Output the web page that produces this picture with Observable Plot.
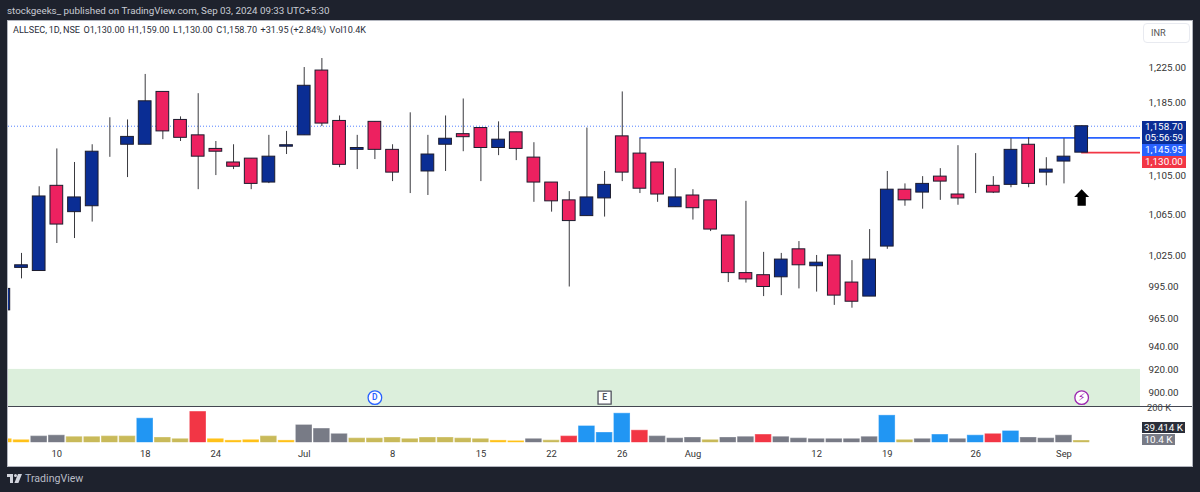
<!DOCTYPE html>
<html><head><meta charset="utf-8">
<script src="https://cdn.jsdelivr.net/npm/d3@7"></script>
<script src="https://cdn.jsdelivr.net/npm/@observablehq/plot@0.6"></script>
<style>
html,body{margin:0;padding:0;background:#1e222d;width:1200px;height:492px;overflow:hidden;font-family:Roboto,sans-serif}
#panel{position:absolute;left:7px;top:20px;width:1184px;height:445px;background:#fff;border:1px solid #b2b5be}
#sep{position:absolute;left:8px;top:406px;width:1184px;height:1px;background:#434651;z-index:3}
#top,#bot{position:absolute;left:0}
#top{top:0}#bot{top:407px}
.t{position:absolute;white-space:pre;z-index:4}
.tag{position:absolute;left:1142px;width:44px;color:#fff;font-size:9.9px;text-align:center;z-index:4;line-height:11.5px}
svg{background:transparent!important}
</style></head><body>
<div id="panel"></div>
<div class="t" style="left:7px;top:4px;color:#c9ccd4;font-size:9.8px;line-height:13px">stockgeeks_ published on TradingView.com, Sep 03, 2024 09:33 UTC+5:30</div>
<div class="t" style="left:13px;top:24px;color:#2a2e39;font-size:9.1px;line-height:13px;word-spacing:-0.5px">ALLSEC, 1D, NSE  O1,130.00  H1,159.00  L1,130.00  C1,158.70  +31.95 (+2.84%)  Vol10.4K</div>
<div class="t" style="left:1143px;top:23px;width:45px;height:18px;border:1px solid #e8eaf0;border-radius:4px;color:#555;font-size:9.2px;line-height:18px;text-indent:7px">INR</div>
<div id="top"></div>
<div id="sep"></div>
<div id="bot"></div>
<div class="tag" style="top:120.5px;height:23px;background:#0a2d94">1,158.70<br>05:56:59</div>
<div class="tag" style="top:143.5px;height:12px;background:#2962ff">1,145.95</div>
<div class="tag" style="top:155.5px;height:12.5px;background:#f23645">1,130.00</div>
<div class="t" style="left:1147px;top:402px;color:#444;font-size:9.4px;line-height:12px;z-index:2">200 K</div>
<div class="tag" style="top:421.5px;height:11.5px;background:#2a2e39;width:43px">39.414 K</div>
<div class="tag" style="top:433.5px;height:11.5px;background:#787b86;width:33px">10.4 K</div>
<svg style="position:absolute;left:7px;top:474px" width="15" height="9" viewBox="0 0 15 9"><path fill="#d1d4dc" d="M0 0h6v9H3V3H0zM8.5 3a1.5 1.5 0 1 1 0-3 1.5 1.5 0 0 1 0 3zM11 0h4l-3.6 9H7.4z"/></svg>
<div class="t" style="left:25px;top:472px;color:#b8bcc6;font-size:10.6px;line-height:14px">TradingView</div>
<script>
const opens  = [973,1013,1010,1095,1068,1074,1138,1138.5,1138.5,1197,1165.6,1148.7,1134,1119.5,1123.6,1098.4,1136.4,1148.7,1221.5,1164.5,1133,1163.5,1133,1118,1110,1138.5,1150,1156.7,1135,1152,1124.7,1098.4,1080,1064,1082,1147.6,1129,1119.5,1073,1085,1080,1044.6,1008,1006,1004,1031,1014.6,1025,999,985.8,1033.7,1091,1088,1104.6,1086,1096,1095,1096,1138.5,1108.8,1120.5,1130];
const highs  = [1000,1027,1094,1134,1119.5,1138.5,1168,1165.6,1217,1197,1169,1195,1142,1138.5,1123.6,1148.7,1153,1225,1235.5,1170,1148.7,1163.5,1138.5,1173.5,1148.7,1170,1189,1156.7,1163.5,1152,1140.7,1098.4,1089,1156.7,1110,1197,1145,1119.5,1113,1091,1080,1044.6,1079,1028,1027,1038.6,1025,1025,1020,1050.5,1110,1097,1104.6,1113,1137.5,1129,1104.6,1145,1146,1124.6,1145,1159];
const lows   = [965,1002.5,1010,1036.7,1041.6,1058,1125,1103.6,1138.5,1144,1142,1091,1105.7,1112,1091,1097.3,1128,1148.7,1158.3,1114,1112,1122.6,1099.4,1087,1085,1110,1131,1099.4,1126.8,1121.5,1078,1068,994.8,1064,1063,1099.4,1087,1078,1073,1060,1048.5,999,998.5,985.8,986.7,993,990,977.6,975,985.8,1031,1074,1071,1080,1075,1087,1087,1093,1093,1095,1097,1130];
const closes = [993,1015.5,1084,1055.5,1083,1131,1138,1147,1186.4,1153,1146,1125.7,1131,1115,1097,1125.7,1138,1204,1161.6,1117,1135,1133,1108.8,1118,1128,1145,1146.7,1135,1144,1134,1098.4,1079,1059,1083,1096,1108.8,1092,1086,1083,1072,1050.5,1008,1002,994.8,1021,1015.5,1018,986.7,981,1021,1091,1080,1097,1099.4,1082,1096,1088,1133,1097,1112,1125.7,1158.7];
const volumes = [20,14,36,41,32,32,36,36,140,28,20,179,20,11,14,36,11,101,80,49,24,24,28,20,28,28,24,20,11,8,20,12,36,95,57,169,70,36,24,28,14,28,32,45,32,24,20,20,20,32,157,14,20,45,20,41,49,66,28,24,41,10.4];
const volumeKinds = "o o g g y y y y b y y r o o o y o g g g y y y y y y y y o o g y r b b b r g g g y g g r g g g g g g b y g b g b r b g g g y".split(" ");
const kindNames = ["o","y","g","b","r"];
const kindColors = ["#ffc21a","#c9ba5a","#787b86","#2196f3","#f23645"];
const priceTicks = [1225,1185,1105,1065,1025,995,965,940,920,900];
const dateTickBars = [2,7,11,16,21,26,30,34,38,45,49,54,59];
const dateTickLabels = ["10","18","24","Jul","8","15","22","26","Aug","12","19","26","Sep"];
const lastClose = 1158.7, resistance = 1145.95, resistanceFrom = 35, lastOpen = 1130, lastBar = 60;
const bandTop = 920, bandBottom = 888.2, markerPrice = 895.7, arrowPrice = 1083;

const bars = opens.map((o,k)=>({i:k-1,o,h:highs[k],l:lows[k],c:closes[k],v:volumes[k],kind:volumeKinds[k]}));
const xDomain = [-0.736,63.33];
const font = "Roboto, sans-serif";
const up = d=>d.c>=d.o;
const arrowSymbol = {draw(c,s){const r=Math.sqrt(s/Math.PI);
  c.moveTo(0,-r);c.lineTo(r*.9,-r*.05);c.lineTo(r*.5,-r*.05);c.lineTo(r*.5,r);c.lineTo(-r*.5,r);c.lineTo(-r*.5,-r*.05);c.lineTo(-r*.9,-r*.05);c.closePath();}};

const price = Plot.plot({
  width:1200,height:406,marginLeft:8,marginRight:60,marginTop:20,marginBottom:0,
  style:{fontFamily:font,fontSize:"9.8px",color:"#333",background:"transparent"},
  x:{domain:xDomain,axis:null},
  y:{type:"log",domain:[1280.9,888.2],range:[20,406],axis:null},
  marks:[
    Plot.rect([0],{x1:xDomain[0],x2:xDomain[1],y1:bandTop,y2:bandBottom,fill:"#dcefdc"}),
    Plot.axisY({anchor:"right",ticks:priceTicks,tickSize:0,tickPadding:8,label:null,
      tickFormat:d=>d3.format(",.2f")(d),textAnchor:"start",fill:"#333"}),
    Plot.ruleY([lastClose],{x1:xDomain[0],x2:xDomain[1],stroke:"#2962ff",strokeWidth:1,strokeDasharray:"1 2",strokeOpacity:.8}),
    Plot.ruleY([resistance],{x1:resistanceFrom,x2:xDomain[1],stroke:"#2962ff",strokeWidth:1.6}),
    Plot.ruleY([lastOpen],{x1:lastBar,x2:xDomain[1],stroke:"#f23645",strokeWidth:1.6}),
    Plot.ruleX(bars,{x:"i",y1:"l",y2:"h",stroke:"#3a3a3f",strokeWidth:1,clip:true}),
    Plot.rect(bars,{x1:d=>d.i-.36,x2:d=>d.i+.36,y1:"o",y2:"c",
      fill:d=>up(d)?"#0a2d94":"#ed2160",stroke:"#1c1c2e",strokeWidth:1,clip:true}),
    Plot.dot([0],{x:lastBar,y:arrowPrice,r:8.3,symbol:arrowSymbol,fill:"#000"}),
    Plot.dot([0],{x:20,y:markerPrice,r:6.8,fill:"#fff",stroke:"#2962ff",strokeWidth:1.3}),
    Plot.text(["D"],{x:20,y:markerPrice,text:d=>d,fill:"#2962ff",fontSize:8.5,fontWeight:600}),
    Plot.dot([0],{x:33,y:markerPrice,r:7.4,symbol:"square",fill:"#fff",stroke:"#50535e",strokeWidth:1.3,strokeLinejoin:"round"}),
    Plot.text(["E"],{x:33,y:markerPrice,text:d=>d,fill:"#50535e",fontSize:8.5,fontWeight:600}),
    Plot.dot([0],{x:lastBar,y:markerPrice,r:6.8,fill:"#fff",stroke:"#9c27b0",strokeWidth:1.3}),
    Plot.text(["⚡"],{x:lastBar,y:markerPrice,text:d=>d,fill:"#9c27b0",fontSize:10.5,fontFamily:"DejaVu Sans"})
  ]
});
document.getElementById("top").append(price);

const vol = Plot.plot({
  width:1200,height:59,marginLeft:8,marginRight:60,marginTop:1,marginBottom:23.7,
  style:{fontFamily:font,fontSize:"9.4px",color:"#333",background:"transparent"},
  x:{domain:xDomain,axis:null},
  y:{domain:[0,200],axis:null},
  color:{domain:kindNames,range:kindColors},
  marks:[
    Plot.rect(bars,{x1:d=>d.i-.44,x2:d=>d.i+.44,y1:0,y2:"v",fill:"kind",stroke:"kind",strokeWidth:1,strokeOpacity:.7,clip:true}),
    Plot.axisX({anchor:"bottom",ticks:dateTickBars,tickSize:0,tickPadding:8,label:null,
      tickFormat:d=>dateTickLabels[dateTickBars.indexOf(d)],fill:"#333"})
  ]
});
document.getElementById("bot").append(vol);
</script>
</body></html>
